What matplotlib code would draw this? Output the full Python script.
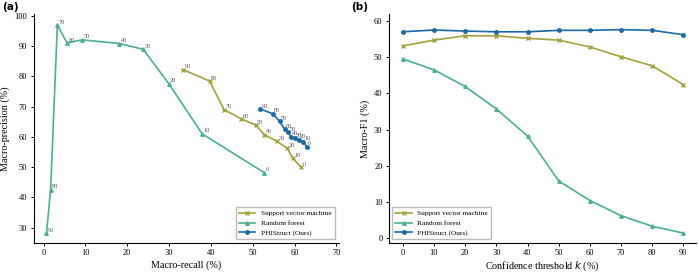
import numpy as np
import matplotlib.pyplot as plt

plt.rcParams['font.family'] = ['Liberation Serif', 'DejaVu Serif']

thresholds = [0, 10, 20, 30, 40, 50, 60, 70, 80, 90]

# panel (a): precision vs recall per threshold
svm_recall = [61.6, 59.6, 58.2, 55.8, 52.8, 50.7, 47.3, 43.1, 39.7, 33.3]
svm_precision = [49.9, 52.9, 56.3, 58.5, 60.7, 63.9, 65.9, 69.0, 78.4, 82.2]
rf_recall = [52.7, 37.9, 29.9, 23.8, 18.1, 9.2, 5.6, 3.3, 1.7, 0.7]
rf_precision = [48.2, 61.0, 77.6, 88.9, 90.8, 92.0, 91.0, 96.9, 42.6, 28.2]
phi_recall = [62.9, 62.0, 61.0, 60.0, 59.1, 58.4, 57.6, 56.4, 54.8, 51.8]
phi_precision = [56.8, 58.4, 59.0, 59.5, 60.1, 61.5, 62.6, 65.1, 67.6, 69.2]

# panel (b): macro-F1 per threshold
svm_f1 = [53.1, 54.7, 55.9, 55.9, 55.2, 54.7, 52.8, 50.1, 47.6, 42.4]
rf_f1 = [49.5, 46.5, 41.9, 35.7, 28.2, 15.8, 10.4, 6.2, 3.3, 1.4]
phi_f1 = [57.0, 57.5, 57.2, 57.0, 57.0, 57.4, 57.4, 57.6, 57.4, 56.2]

c_svm = "#a3a13a"
c_rf = "#4aaf96"
c_phi = "#1a6aa8"

fig = plt.figure(figsize=(6.98, 2.72), dpi=100)
ax1 = fig.add_axes([0.048, 0.107, 0.437, 0.84])
ax2 = fig.add_axes([0.557, 0.107, 0.44, 0.84])


def style(ax):
    ax.spines["top"].set_visible(False)
    ax.spines["right"].set_visible(False)
    ax.tick_params(labelsize=6, length=2.5, width=0.7, pad=2)


ax1.plot(svm_recall, svm_precision, color=c_svm, marker="x", markersize=2.5, lw=1.2, label="Support vector machine")
ax1.plot(rf_recall, rf_precision, color=c_rf, marker="^", markersize=2.5, lw=1.2, label="Random forest")
ax1.plot(phi_recall, phi_precision, color=c_phi, marker="o", markersize=2.5, lw=1.2, label="PHIStruct (Ours)")
for xs, ys in [(svm_recall, svm_precision), (rf_recall, rf_precision), (phi_recall, phi_precision)]:
    for t, x, y in zip(thresholds, xs, ys):
        ax1.annotate(str(t), (x, y), xytext=(1, 1), textcoords="offset points", fontsize=4.5, color="#555555")
ax1.set_xlim(-2.4, 70.5)
ax1.set_ylim(25, 100.4)
ax1.set_xticks(range(0, 71, 10))
ax1.set_yticks(range(30, 101, 10))
ax1.set_xlabel("Macro-recall (%)", fontsize=7.3, labelpad=2)
ax1.set_ylabel("Macro-precision (%)", fontsize=7.3, labelpad=3)
ax1.legend(loc="lower right", fontsize=5.3, handlelength=2.2, framealpha=1, edgecolor="#bbbbbb", fancybox=False)
style(ax1)

ax2.plot(thresholds, svm_f1, color=c_svm, marker="x", markersize=2.5, lw=1.2, label="Support vector machine")
ax2.plot(thresholds, rf_f1, color=c_rf, marker="^", markersize=2.5, lw=1.2, label="Random forest")
ax2.plot(thresholds, phi_f1, color=c_phi, marker="o", markersize=2.5, lw=1.2, label="PHIStruct (Ours)")
ax2.set_xlim(-4.5, 94)
ax2.set_ylim(-1.3, 61.8)
ax2.set_xticks(thresholds)
ax2.set_yticks(range(0, 61, 10))
ax2.set_xlabel("Confidence threshold $k$ (%)", fontsize=7.3, labelpad=2)
ax2.set_ylabel("Macro-F1 (%)", fontsize=7.3, labelpad=3)
ax2.legend(loc="lower left", fontsize=5.3, handlelength=2.2, framealpha=1, edgecolor="#bbbbbb", fancybox=False)
style(ax2)

fig.text(0.003, 0.963, "(a)", fontsize=7.5, fontweight="bold", family="DejaVu Sans")
fig.text(0.503, 0.963, "(b)", fontsize=7.5, fontweight="bold", family="DejaVu Sans")

fig.savefig("out.png", dpi=100)
